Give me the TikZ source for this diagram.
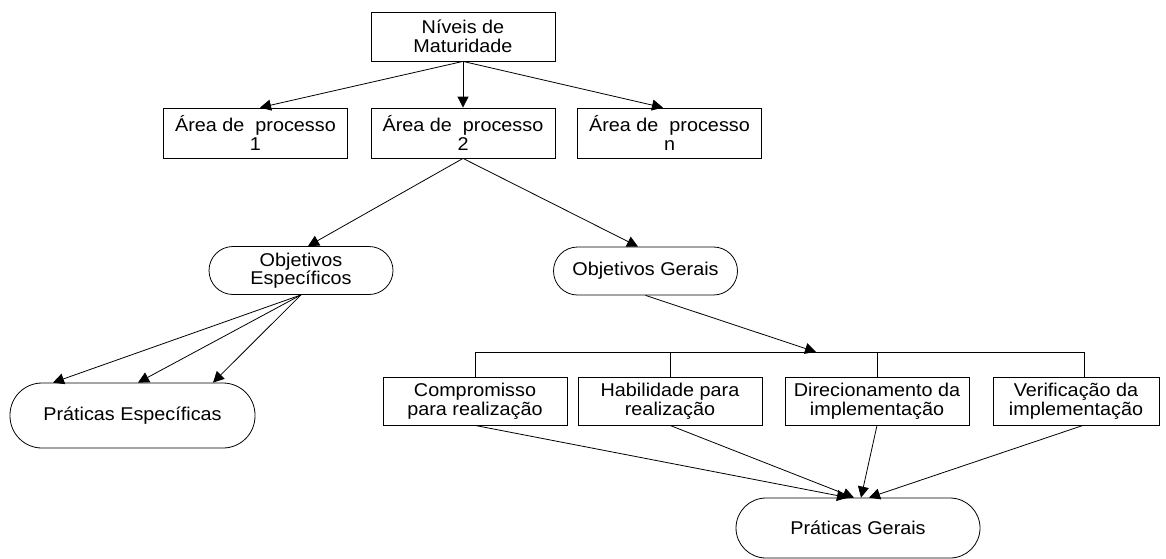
\documentclass[tikz,border=0pt]{standalone}
\usepackage{fontspec}
\setmainfont{Liberation Sans}[FakeStretch=1.07]
\usepackage{tikz}
\usetikzlibrary{arrows.meta}

\begin{document}
\begin{tikzpicture}[x=1pt,y=-1pt,line width=0.8pt,
        every node/.style={font=\fontsize{18.5}{18.5}\selectfont,align=center,inner sep=0pt},
        box/.style={draw,minimum width=184pt,minimum height=49pt},
        pill/.style={draw,minimum width=184pt,minimum height=48pt,rounded corners=24pt},
        arr/.style={-{Triangle[length=11pt,width=11pt]}}]
        \useasboundingbox (0,0) rectangle (1166,558);

        \node[box] (nv) at (463,36.5) {Níveis de\\Maturidade};
        \node[box,minimum height=50pt] (ap1) at (255.5,133) {Área de~ processo\\1};
        \node[box,minimum height=50pt] (ap2) at (463,133) {Área de~ processo\\2};
        \node[box,minimum height=50pt] (apn) at (669.5,133) {Área de~ processo\\n};

        \node[pill] (oe) at (301,270.5) {Objetivos\\Específicos};
        \node[pill] (og) at (645.5,271) {Objetivos Gerais};
        \node[pill,minimum width=245pt,minimum height=65pt,rounded corners=32pt] (pe) at (132.5,415.5) {Práticas Específicas};

        \node[box,minimum height=48pt] (cp) at (475,401) {Compromisso\\para realização};
        \node[box,minimum height=48pt] (hb) at (670,401) {Habilidade para\\realização};
        \node[box,minimum height=48pt] (dr) at (877,401) {Direcionamento da\\implementação};
        \node[box,minimum width=166pt,minimum height=48pt] (vf) at (1076,401) {Verificação da\\implementação};
        \node[pill,minimum width=244pt,minimum height=60pt,rounded corners=30pt] (pg) at (858,528) {Práticas Gerais};

        \coordinate (bus) at (816,352);

        \draw[arr] (nv.south) -- ([xshift=4.5pt]ap1.north);
        \draw[arr] (nv.south) -- (ap2.north);
        \draw[arr] (nv.south) -- ([xshift=-6.5pt]apn.north);

        \draw[arr] (ap2.south) -- ([xshift=7pt]oe.north);
        \draw[arr] (ap2.south) -- ([xshift=-7.5pt]og.north);

        \draw[arr] (oe.south) -- ([xshift=-79.5pt]pe.north);
        \draw[arr] (oe.south) -- ([xshift=5.5pt]pe.north);
        \draw[arr] (oe.south) -- ([xshift=80.5pt]pe.north);

        \draw[arr] (og.south) -- (bus);
        \draw (cp.north) -- (cp.north |- bus) -- ([xshift=8pt]vf.north |- bus) -- ([xshift=8pt]vf.north);
        \draw (hb.north) -- (hb.north |- bus);
        \draw (dr.north) -- (dr.north |- bus);

        \draw[arr] (cp.south) -- ([xshift=-10pt]pg.north);
        \draw[arr] (hb.south) -- ([xshift=-4pt]pg.north);
        \draw[arr] (dr.south) -- ([xshift=3pt]pg.north);
        \draw[arr] ([xshift=7pt]vf.south) -- ([xshift=11pt]pg.north);
    \end{tikzpicture}
\end{document}
